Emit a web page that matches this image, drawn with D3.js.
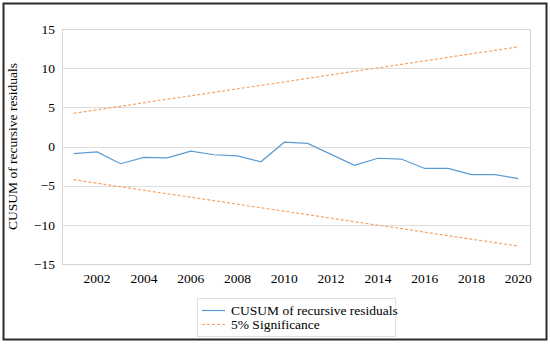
<!DOCTYPE html>
<html>
<head>
<meta charset="utf-8">
<script src="https://cdn.jsdelivr.net/npm/d3@7"></script>
<style>
	body { margin: 0; background: #fff; }
</style>
</head>
<body>
<svg id="chart" width="550" height="344"></svg>
<script>
'use strict';

// years on the x axis
var years = [2001, 2002, 2003, 2004, 2005, 2006, 2007, 2008, 2009, 2010,
	2011, 2012, 2013, 2014, 2015, 2016, 2017, 2018, 2019, 2020];

// CUSUM of recursive residuals
var cusum = [-0.9, -0.7, -2.2, -1.4, -1.45, -0.6, -1.05, -1.2, -1.95, 0.55,
	0.4, -1.0, -2.4, -1.5, -1.6, -2.8, -2.8, -3.6, -3.6, -4.1];

// 5% significance bounds
var upperBound = [4.24, 4.69, 5.13, 5.58, 6.03, 6.47, 6.92, 7.36, 7.81, 8.26,
	8.70, 9.15, 9.60, 10.04, 10.49, 10.93, 11.38, 11.83, 12.27, 12.72];
var lowerBound = [-4.24, -4.69, -5.13, -5.58, -6.03, -6.47, -6.92, -7.36, -7.81, -8.26,
	-8.70, -9.15, -9.60, -10.04, -10.49, -10.93, -11.38, -11.83, -12.27, -12.72];

var yTicks = [-15, -10, -5, 0, 5, 10, 15];
var xTickYears = [2002, 2004, 2006, 2008, 2010, 2012, 2014, 2016, 2018, 2020];

var seriesNames = ["CUSUM of recursive residuals", "5% Significance"];

var FONT = "'Liberation Serif', 'Times New Roman', serif";

function drawChart() {
	let svg = d3.select("#chart");
	let margin = {top: 29, left: 62, right: 20, bottom: 80};
	let width = 530 - margin.left,
		height = 264 - margin.top;

	// outer frame
	svg.append("rect")
		.attr("x", 3.5).attr("y", 3.5)
		.attr("width", 543).attr("height", 336)
		.attr("fill", "none")
		.attr("stroke", "#2b2b2b")
		.attr("stroke-width", 2);

	let g = svg.append("g").attr("transform", "translate(" + margin.left + "," + margin.top + ")");

	let x = d3.scaleBand().domain(years).range([0, width]);
	let y = d3.scaleLinear().domain([-15, 15]).range([height, 0]);
	let xc = d => x(d) + x.bandwidth() / 2;

	// gridlines
	g.append("g").selectAll("line")
		.data(yTicks)
		.enter().append("line")
		.attr("x1", 0).attr("x2", width)
		.attr("y1", d => Math.round(y(d)) + 0.5)
		.attr("y2", d => Math.round(y(d)) + 0.5)
		.attr("stroke", "#dcdcdc")
		.attr("stroke-width", 1);

	// plot area border
	g.append("rect")
		.attr("x", 0.5).attr("y", 0.5)
		.attr("width", width).attr("height", height)
		.attr("fill", "none")
		.attr("stroke", "#d4d4d4");

	// y axis labels
	let yAxis = g.append("g")
		.call(d3.axisLeft(y).tickValues(yTicks).tickSize(0).tickPadding(7)
			.tickFormat(d => d < 0 ? "\u2212" + Math.abs(d) : d))
		.attr("font-family", FONT)
		.attr("font-size", 13.5);
	yAxis.select(".domain").remove();
	yAxis.selectAll("text").attr("fill", "#000");

	// x axis labels
	let xAxis = g.append("g")
		.attr("transform", "translate(0," + height + ")")
		.call(d3.axisBottom(x).tickValues(xTickYears).tickSize(0).tickPadding(9))
		.attr("font-family", FONT)
		.attr("font-size", 13.5);
	xAxis.select(".domain").remove();
	xAxis.selectAll("text").attr("fill", "#000");

	// y axis title
	svg.append("text")
		.attr("transform", "translate(17," + (margin.top + height / 2) + ") rotate(-90)")
		.attr("text-anchor", "middle")
		.attr("font-family", FONT)
		.attr("font-size", 13.5)
		.text("CUSUM of recursive residuals");

	let line = d3.line()
		.x((d, i) => xc(years[i]))
		.y(d => y(d));

	for (let bound of [upperBound, lowerBound]) {
		g.append("path")
			.datum(bound)
			.attr("fill", "none")
			.attr("stroke", "#f4a46a")
			.attr("stroke-width", 1.2)
			.attr("stroke-dasharray", "3,2")
			.attr("d", line);
	}

	g.append("path")
		.datum(cusum)
		.attr("fill", "none")
		.attr("stroke", "#5b9bd5")
		.attr("stroke-width", 1.2)
		.attr("d", line);

	// legend
	let lg = svg.append("g").attr("transform", "translate(197,298)");
	lg.append("rect")
		.attr("x", 0.5).attr("y", 0.5)
		.attr("width", 198).attr("height", 38)
		.attr("fill", "#fff")
		.attr("stroke", "#e0e0e0");
	let styles = [
		{color: "#5b9bd5", dash: null},
		{color: "#f4a46a", dash: "3,2"}
	];
	seriesNames.forEach(function (name, i) {
		let row = lg.append("g").attr("transform", "translate(0," + (12 + i * 14) + ")");
		row.append("line")
			.attr("x1", 5).attr("x2", 28)
			.attr("y1", 0.5).attr("y2", 0.5)
			.attr("stroke", styles[i].color)
			.attr("stroke-width", 1.2)
			.attr("stroke-dasharray", styles[i].dash);
		row.append("text")
			.attr("x", 34).attr("y", 0)
			.attr("dy", "0.35em")
			.attr("font-family", FONT)
			.attr("font-size", 13.5)
			.text(name);
	});
}

drawChart();
</script>
</body>
</html>
